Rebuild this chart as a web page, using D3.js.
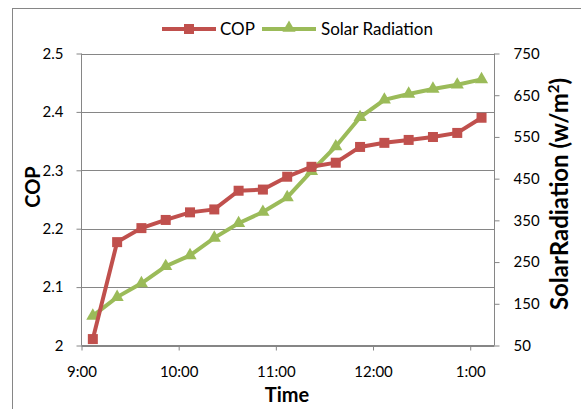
<!DOCTYPE html>
<html><head><meta charset="utf-8">
<script src="https://cdn.jsdelivr.net/npm/d3@7"></script>
<style>body{margin:0;background:#fff}svg{display:block}text{font-family:Lato,"Open Sans",sans-serif}</style>
</head><body><svg id="c" width="581" height="409"></svg>
<script>
const times = ["9:07","9:22","9:37","9:52","10:07","10:22","10:37","10:52","11:07","11:22","11:37","11:52","12:07","12:22","12:37","12:52","13:07"];
const cop = [2.011,2.177,2.201,2.215,2.228,2.233,2.265,2.267,2.289,2.306,2.313,2.340,2.347,2.352,2.357,2.364,2.390];
const solar = [121,166,199,240,266,308,343,370,405,468,527,597,639,653,665,675,688];
const copTicks = [2,2.1,2.2,2.3,2.4,2.5];
const solarTicks = [50,150,250,350,450,550,650,750];
const xTickLabels = ["9:00","10:00","11:00","12:00","1:00"];

const svg = d3.select("#c");
const L=81.5, R=494.5, T=53.5, B=345.5;
const parse = d3.timeParse("%H:%M");
const x = d3.scaleTime().domain([parse("9:00"), parse("13:15")]).range([L,R]);
const yL = d3.scaleLinear().domain([2,2.5]).range([B,T]);
const yR = d3.scaleLinear().domain([50,750]).range([B,T]);
const grey="#868686", red="#C0504D", green="#9BBB59";

svg.append("rect").attr("x",12.5).attr("y",8.5).attr("width",600).attr("height",450)
  .attr("fill","none").attr("stroke",grey);

svg.append("g").selectAll("line").data(copTicks).join("line")
  .attr("x1",L).attr("x2",R).attr("y1",d=>Math.round(yL(d))+0.5).attr("y2",d=>Math.round(yL(d))+0.5)
  .attr("stroke",grey).attr("stroke-width",1);

const fmtL = d=> d===2? "2" : d3.format(".1f")(d);
const gL = svg.append("g").attr("transform",`translate(${L},0)`)
  .call(d3.axisLeft(yL).tickValues(copTicks).tickFormat(fmtL).tickSize(5).tickPadding(13));
const gR = svg.append("g").attr("transform",`translate(${R},0)`)
  .call(d3.axisRight(yR).tickValues(solarTicks).tickSize(5).tickPadding(14));
const xTicks = [9,10,11,12,13].map(h=>parse(h+":00"));
const gX = svg.append("g").attr("transform",`translate(0,${B})`)
  .call(d3.axisBottom(x).tickValues(xTicks).tickFormat((d,i)=>xTickLabels[i]).tickSize(5).tickPadding(16).tickSizeOuter(0));
[gL,gR,gX].forEach(g=>{
  g.selectAll("path,line").attr("stroke",grey);
  g.selectAll("text").attr("fill","#000").style("font-size","15px").style("font-family","Lato,sans-serif");
});
gL.select("path").attr("d",`M0,${T}V${B}`);
gR.select("path").attr("d",`M0,${T}V${B}`);
gX.select("path").attr("d",`M${L},0H${R}`);

const data = times.map((t,i)=>({t:parse(t),c:cop[i],s:solar[i]}));
svg.append("path").datum(data).attr("fill","none").attr("stroke",green).attr("stroke-width",4)
  .attr("d",d3.line().x(d=>x(d.t)).y(d=>yR(d.s)));
svg.append("g").selectAll("path").data(data).join("path")
  .attr("transform",d=>`translate(${x(d.t)},${yR(d.s)})`)
  .attr("d",d3.symbol(d3.symbolTriangle,75)).attr("fill",green);
svg.append("path").datum(data).attr("fill","none").attr("stroke",red).attr("stroke-width",4)
  .attr("d",d3.line().x(d=>x(d.t)).y(d=>yL(d.c)));
svg.append("g").selectAll("rect").data(data).join("rect")
  .attr("x",d=>x(d.t)-5).attr("y",d=>yL(d.c)-5).attr("width",10).attr("height",10).attr("fill",red);

svg.append("text").attr("transform","translate(40,187) rotate(-90)").attr("text-anchor","middle")
  .style("font-size","20px").style("font-weight","bold").text("COP");
const rt = svg.append("text").attr("transform","translate(568,194) rotate(-90)").attr("text-anchor","middle")
  .style("font-size","24px").style("font-weight","bold");
rt.append("tspan").text("SolarRadiation (w/m");
rt.append("tspan").attr("dy",-9).style("font-size","15px").text("2");
rt.append("tspan").attr("dy",9).text(")");
svg.append("text").attr("x",287).attr("y",402).attr("text-anchor","middle")
  .style("font-size","20px").style("font-weight","bold").text("Time");

const lg = svg.append("g");
lg.append("line").attr("x1",162).attr("x2",216).attr("y1",29).attr("y2",29).attr("stroke",red).attr("stroke-width",4);
lg.append("rect").attr("x",184).attr("y",24).attr("width",10).attr("height",10).attr("fill",red);
lg.append("text").attr("x",220).attr("y",35).style("font-size","17px").text("COP");
lg.append("line").attr("x1",262).attr("x2",316).attr("y1",29).attr("y2",29).attr("stroke",green).attr("stroke-width",4);
lg.append("path").attr("transform","translate(289,28)").attr("d",d3.symbol(d3.symbolTriangle,75)).attr("fill",green);
lg.append("text").attr("x",321).attr("y",35).style("font-size","17px").text("Solar Radiation");
</script></body></html>
